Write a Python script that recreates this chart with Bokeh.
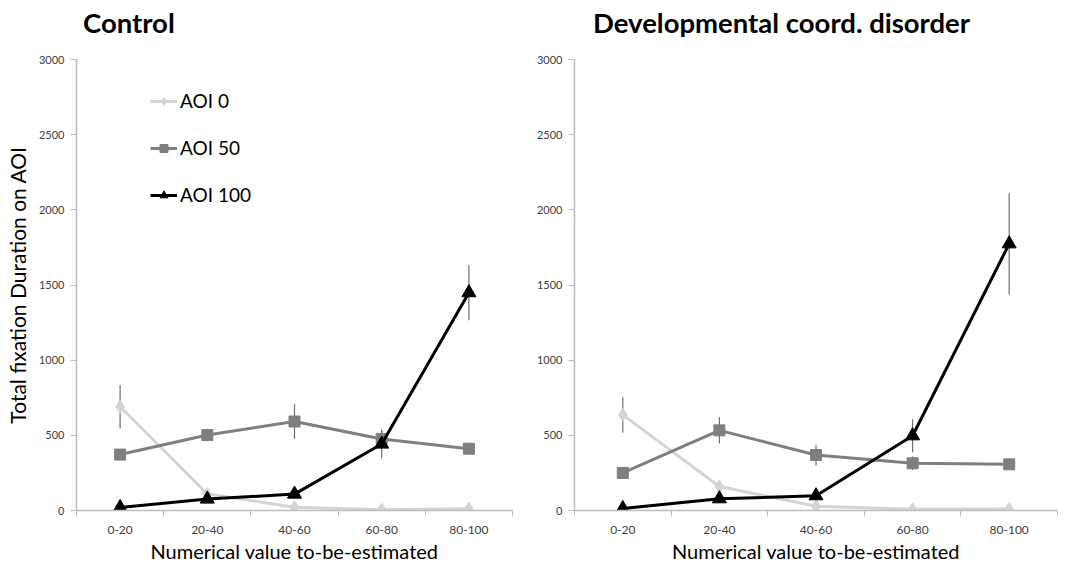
from bokeh.plotting import figure
from bokeh.layouts import row, column
from bokeh.models import Range1d, FixedTicker, Legend, LegendItem, Div
from bokeh.embed import file_html
from bokeh.resources import INLINE
import numpy as np

categories = ["0-20", "20-40", "40-60", "60-80", "80-100"]
y_ticks = [0, 500, 1000, 1500, 2000, 2500, 3000]
titles = ["Control", "Developmental coord. disorder"]

# Control group
ctrl_aoi0 = [690, 110, 22, 5, 12]
ctrl_aoi0_err = [145, 20, 10, 5, 5]
ctrl_aoi50 = [372, 502, 592, 476, 411]
ctrl_aoi50_err = [30, 42, 115, 60, 30]
ctrl_aoi100 = [20, 76, 109, 442, 1449]
ctrl_aoi100_err = [10, 20, 20, 95, 184]

# Developmental coordination disorder group
dcd_aoi0 = [636, 160, 28, 8, 10]
dcd_aoi0_err = [118, 20, 10, 5, 5]
dcd_aoi50 = [250, 533, 369, 314, 307]
dcd_aoi50_err = [30, 88, 68, 45, 38]
dcd_aoi100 = [13, 78, 98, 497, 1774]
dcd_aoi100_err = [8, 20, 15, 110, 337]

FONT = "Lato"
C0, C50, C100 = "#d4d4d4", "#7f7f7f", "#000000"
AXIS_C = "#bdbdbd"
TITLE_H = 40
H = 567 - TITLE_H
TOP, BOTTOM = 59 - TITLE_H, 57
FRAME_BOTTOM = H - BOTTOM


def title_div(text, width, left):
    html = ('<div style="position:relative; left:%dpx; top:9px; font-family:Lato; '
            'font-weight:bold; font-size:27.5px; line-height:1; color:#000; '
            'white-space:nowrap;">%s</div>' % (left, text))
    return Div(text=html, width=width, height=TITLE_H, margin=0)


def make_panel(a0, e0, a50, e50, a100, e100, width, left, right, ylabel, legend):
    p = figure(width=width, height=H, output_backend="svg", toolbar_location=None,
               title=None,
               x_range=Range1d(0, len(categories)), y_range=Range1d(0, 3000),
               min_border_left=left, min_border_right=right,
               min_border_top=TOP, min_border_bottom=BOTTOM)
    p.outline_line_color = None
    p.grid.visible = False
    p.background_fill_color = "white"
    p.border_fill_color = "white"

    xs = np.arange(len(categories)) + 0.5

    # x axis: labels at centres, ticks at category boundaries
    xa = p.xaxis[0]
    xa.ticker = FixedTicker(ticks=list(xs), minor_ticks=list(range(len(categories) + 1)))
    xa.major_label_overrides = {float(x): c for x, c in zip(xs, categories)}
    xa.major_tick_out = 0
    xa.major_tick_in = 0
    xa.minor_tick_out = 6
    xa.minor_tick_in = 0
    xa.minor_tick_line_color = AXIS_C
    xa.axis_line_color = AXIS_C
    xa.axis_line_width = 1.5
    xa.major_label_standoff = 9
    xa.major_label_text_font = FONT
    xa.major_label_text_font_size = "12px"
    xa.major_label_text_color = "#404040"
    xa.axis_label = "Numerical value to-be-estimated"
    xa.axis_label_text_font = FONT
    xa.axis_label_text_font_size = "20px"
    xa.axis_label_text_font_style = "normal"
    xa.axis_label_text_color = "#000000"
    xa.axis_label_standoff = 2

    ya = p.yaxis[0]
    ya.ticker = FixedTicker(ticks=y_ticks)
    ya.major_tick_out = 6
    ya.major_tick_in = 0
    ya.minor_tick_out = 0
    ya.minor_tick_in = 0
    ya.major_tick_line_color = AXIS_C
    ya.axis_line_color = AXIS_C
    ya.axis_line_width = 1.5
    ya.major_label_standoff = 6
    ya.major_label_text_font = FONT
    ya.major_label_text_font_size = "11px"
    ya.major_label_text_color = "#404040"
    if ylabel:
        ya.axis_label = ylabel
        ya.axis_label_text_font = FONT
        ya.axis_label_text_font_size = "21px"
        ya.axis_label_text_font_style = "normal"
        ya.axis_label_text_color = "#000000"
        ya.axis_label_standoff = 6

    # error bars
    for vals, errs in ((a0, e0), (a50, e50), (a100, e100)):
        v = np.array(vals, dtype=float)
        e = np.array(errs, dtype=float)
        p.segment(x0=xs, y0=v - e, x1=xs, y1=v + e, line_color="#6e6e6e", line_width=1.2)

    l0 = p.line(xs, a0, line_color=C0, line_width=3)
    s0 = p.scatter(xs, a0, marker="diamond", size=13, fill_color=C0, line_color=C0)
    l50 = p.line(xs, a50, line_color=C50, line_width=3)
    s50 = p.scatter(xs, a50, marker="square", size=11, fill_color=C50, line_color=C50)
    l100 = p.line(xs, a100, line_color=C100, line_width=3)
    s100 = p.scatter(xs, a100, marker="triangle", size=14, fill_color=C100, line_color=C100)

    if legend:
        lg = Legend(items=[
            LegendItem(label="AOI 0", renderers=[l0, s0]),
            LegendItem(label="AOI 50", renderers=[l50, s50]),
            LegendItem(label="AOI 100", renderers=[l100, s100]),
        ])
        # (x, y) of the legend's bottom-left corner, in px from the frame's bottom-left
        lg.location = (74, FRAME_BOTTOM - (206 - TITLE_H))
        lg.padding = 0
        lg.margin = 0
        lg.spacing = 24
        lg.glyph_width = 27
        lg.glyph_height = 20
        lg.label_height = 20
        lg.label_standoff = 3
        lg.label_text_font = FONT
        lg.label_text_font_size = "19px"
        lg.label_text_color = "#000000"
        lg.border_line_color = None
        lg.background_fill_alpha = 0
        p.add_layout(lg)
    return p


p1 = make_panel(ctrl_aoi0, ctrl_aoi0_err, ctrl_aoi50, ctrl_aoi50_err,
                ctrl_aoi100, ctrl_aoi100_err, 530, 76, 18,
                "Total fixation Duration on AOI", True)
p2 = make_panel(dcd_aoi0, dcd_aoi0_err, dcd_aoi50, dcd_aoi50_err,
                dcd_aoi100, dcd_aoi100_err, 535, 44, 8, None, False)

d1 = title_div(titles[0], 530, 83)
d2 = title_div(titles[1], 535, 63)

layout = column(row(d1, d2), row(p1, p2))
open("out.html", "w").write(file_html(layout, INLINE))
